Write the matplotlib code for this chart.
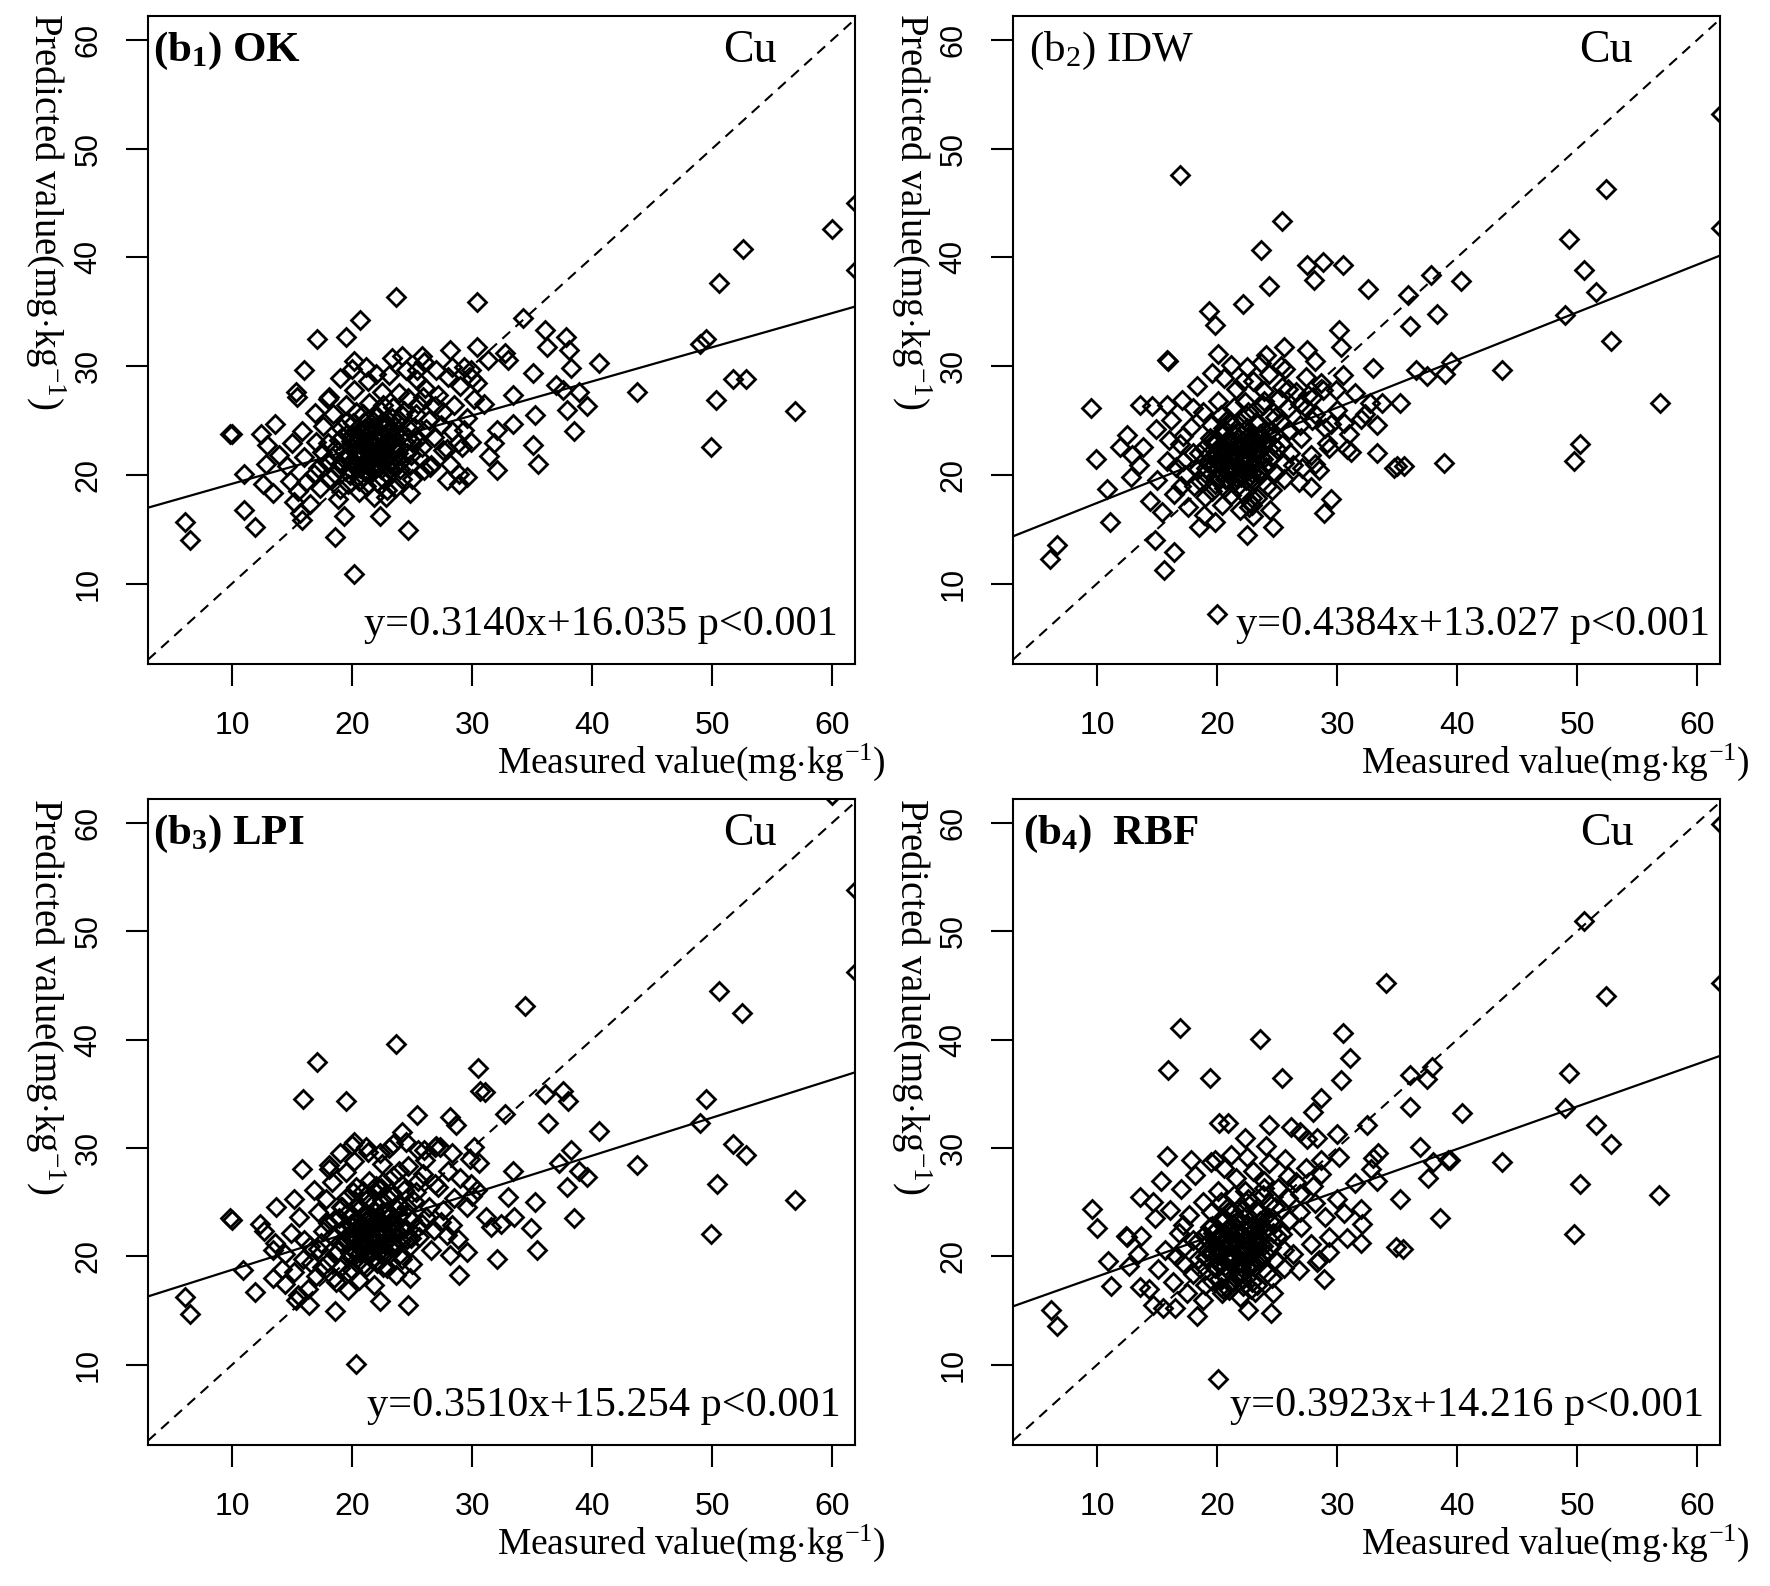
import matplotlib
matplotlib.use('Agg')
import matplotlib.pyplot as plt

plt.rcParams['mathtext.fontset'] = 'custom'
plt.rcParams['mathtext.rm'] = 'Liberation Serif'
plt.rcParams['mathtext.it'] = 'Liberation Serif:italic'
plt.rcParams['mathtext.bf'] = 'Liberation Serif:bold'

# ---- data (measured, predicted) in mg/kg ----
ok_pts = [
    (23.7,36.4),(30.4,35.9),(34.2,34.4),(36.1,33.3),(36.2,31.8),(20.7,34.2),(19.5,32.7),(17.1,32.5),
    (16.0,29.6),(15.3,27.6),(15.4,27.2),(9.8,23.8),(10.0,23.8),(12.4,23.8),(12.9,22.7),(13.6,24.7),
    (11.0,20.1),(12.6,19.2),(13.4,18.3),(6.1,15.7),(6.5,14.0),(11.0,16.8),(11.9,15.2),(15.7,16.5),
    (15.8,15.8),(19.3,16.2),(18.6,14.3),(20.2,10.9),(24.8,18.3),(24.7,14.9),(22.3,16.2),(22.8,18.0),
    (27.9,19.5),(28.9,19.2),(29.6,19.8),(32.1,20.4),(31.4,21.7),(31.8,22.9),(35.1,22.7),(35.5,21.0),
    (35.2,25.5),(33.4,24.7),(32.1,24.1),(33.4,27.3),(28.2,31.5),(28.3,29.9),(30.4,31.8),(31.3,30.6),
    (32.7,31.2),(33.0,30.6),(29.3,29.9),(30.0,28.9),(30.4,28.4),(25.8,30.9),(25.4,29.6),(25.4,28.7),
    (24.2,30.9),(23.3,30.7),(20.2,30.5),(21.2,29.9),(22.0,29.3),(18.1,27.2),(29.3,24.1),(29.2,22.6),
    (29.9,23.0),(27.6,22.3),(28.2,21.0),(28.9,20.1),(26.5,20.7),(26.0,20.4),(35.1,29.4),(37.0,28.3),
    (60.0,42.6),(52.6,40.8),(50.6,37.6),(62.0,45.0),(62.0,38.8),(49.5,32.5),(49.0,32.0),(51.7,28.8),
    (52.8,28.8),(50.3,26.9),(49.9,22.6),(56.9,25.9),(43.7,27.6),(40.6,30.3),(38.5,24.0),(39.6,26.3),
    (38.9,27.6),(38.2,29.8),(38.1,31.5),(37.8,32.7),(37.9,26.0),(37.6,27.8),
    (15.5,18.5),(16.2,19.3),(16.8,20.1),(17.3,18.8),(17.9,21.2),(18.2,19.7),(18.6,22.4),(18.9,20.6),
    (19.2,23.5),(19.4,21.4),(19.7,19.2),(19.9,22.6),(20.1,24.8),(20.3,20.7),(20.5,23.1),(20.7,21.8),
    (20.9,19.9),(21.0,22.5),(21.2,24.0),(21.4,21.2),(21.5,23.3),(21.7,20.4),(21.9,22.1),(22.0,25.3),
    (22.2,21.6),(22.4,23.8),(22.6,19.6),(22.8,22.9),(23.0,24.6),(23.2,21.0),(23.4,26.2),(23.6,22.3),
    (23.8,24.1),(24.0,20.5),(24.2,25.5),(24.4,23.0),(24.7,27.1),(24.9,21.8),(25.2,24.4),(25.5,26.5),
    (25.8,22.6),(26.1,28.0),(26.4,25.0),(26.8,23.5),(27.2,27.3),(27.6,25.8),(28.0,29.0),(28.5,26.4),
    (29.0,28.2),(29.6,25.2),(17.0,23.0),(17.6,24.5),(18.4,25.6),(18.8,17.8),(19.5,26.4),(20.2,27.8),
    (20.6,18.4),(21.3,28.6),(21.8,18.0),(22.5,27.6),(23.1,29.2),(23.7,18.9),(24.5,29.6),(25.0,19.6),
    (26.0,30.4),(26.6,20.9),(27.0,29.6),(27.9,22.4),(14.6,20.8),(15.0,22.9),(15.8,24.0),(16.5,17.3),
    (16.9,25.7),(18.0,27.0),(19.0,28.9),(20.0,29.7),(20.4,21.5),(20.8,22.9),(21.1,20.3),(21.6,21.9),
    (22.1,23.2),(22.3,20.8),(22.7,24.4),(23.3,22.6),(19.8,20.5),(20.6,24.0),(21.9,25.6),(18.3,21.6),
    (19.1,24.3),(24.6,22.0),(25.4,23.2),(26.2,24.2),(27.4,24.6),(28.3,24.0),(28.8,22.9),(30.2,27.0),
    (31.0,26.5),(29.9,29.6),(16.0,21.6),(17.5,22.1),(13.9,21.8),(14.8,19.4),(15.2,17.5),(12.8,21.0),
    (19.0,21.0),(19.3,22.2),(19.6,23.8),(19.8,20.0),(20.0,21.3),(20.2,22.9),(20.4,24.2),(20.6,19.4),
    (20.8,20.8),(21.0,21.9),(21.1,23.6),(21.3,25.0),(21.5,20.1),(21.7,22.7),(21.8,24.5),(22.0,21.1),
    (22.1,19.3),(22.3,22.4),(22.5,24.9),(22.6,21.9),(22.8,20.2),(23.0,23.3),(23.1,21.6),(23.3,25.2),
    (23.5,20.8),(23.6,24.4),(23.8,22.0),(24.0,23.6),(24.1,21.3),(24.3,25.9),(24.6,24.4),(24.8,20.9),
    (25.0,23.0),(25.3,25.6),(25.6,21.6),(19.5,24.9),(20.3,25.8),(21.4,26.6),(22.6,26.4),(23.9,27.5),
    (18.6,20.1),(19.0,18.7),(18.0,22.9),(17.2,20.6),(21.2,19.0),(22.9,18.6),(20.0,23.6),(21.6,23.1),
    (22.9,23.9),(20.5,22.2),(21.9,20.7),(23.4,22.7),(24.7,23.4),(20.9,25.6),(19.7,21.6),(22.4,25.9),
    (18.9,23.2),(24.2,19.6),(25.9,27.2),(26.9,26.3),
]
ok_core = [
    (19.6,21.8),(19.9,23.1),(20.1,20.9),(20.3,22.1),(20.5,23.6),(20.7,20.6),(20.9,22.7),(21.1,24.3),
    (21.2,21.4),(21.4,22.9),(21.6,20.8),(21.7,24.0),(21.9,21.6),(22.1,23.5),(22.2,22.2),(22.4,20.5),
    (22.5,24.4),(22.7,21.4),(22.9,23.0),(23.0,21.9),(23.2,24.0),(23.4,21.3),(23.5,23.4),(23.7,22.6),
    (23.9,25.0),(21.0,21.1),(21.8,23.4),(22.6,22.6),(20.4,22.8),(23.1,20.5),
]

idw_pts = [
    (16.9,47.6),(25.4,43.3),(23.7,40.7),(24.3,37.4),(22.2,35.7),(19.3,35.1),(19.8,33.8),(27.5,39.3),
    (28.8,39.6),(28.1,37.9),(30.5,39.3),(32.6,37.1),(15.8,30.6),(15.9,30.5),(20.1,31.1),(25.6,31.8),
    (28.2,30.5),(30.2,33.3),(30.3,31.8),(30.5,29.2),(9.5,26.1),(13.6,26.4),(14.6,26.3),(15.8,26.4),
    (12.5,23.7),(11.9,22.6),(12.9,21.8),(9.9,21.5),(10.8,18.7),(11.1,15.7),(6.1,12.3),(6.7,13.5),
    (14.8,14.0),(16.4,12.9),(15.6,11.2),(18.5,15.2),(19.8,15.7),(22.5,14.5),(24.4,16.8),(24.7,15.2),
    (22.9,17.2),(22.7,17.0),(27.8,18.9),(29.5,17.8),(28.9,16.5),(31.0,23.8),(31.2,22.1),(33.3,24.6),
    (33.3,22.0),(34.7,20.6),(35.2,26.6),(32.3,25.6),(32.7,26.6),(29.9,27.8),(28.8,27.8),(25.4,28.1),
    (27.4,26.1),(27.9,25.0),(29.5,24.7),(29.2,22.9),(27.1,20.6),(28.2,21.0),(20.0,7.2),
    (35.9,36.5),(36.1,33.7),(37.8,38.4),(38.3,34.8),(36.6,29.6),(37.5,29.1),(35.0,20.8),(35.6,20.8),
    (33.7,26.6),
    (52.4,46.3),(49.3,41.7),(50.6,38.8),(51.6,36.8),(49.0,34.7),(52.8,32.3),(56.9,26.6),(50.2,22.8),
    (49.7,21.3),(43.7,29.6),(40.3,37.8),(62.0,53.2),(62.0,42.7),(39.5,30.4),(39.0,29.3),(38.9,21.1),
    (15.0,19.5),(15.8,21.3),(16.4,18.2),(16.9,22.8),(17.3,20.0),(17.8,24.4),(18.1,19.0),(18.5,22.0),
    (18.8,25.8),(19.1,20.6),(19.4,23.4),(19.6,18.5),(19.9,21.7),(20.1,26.8),(20.3,20.2),(20.5,24.3),
    (20.7,22.3),(20.9,19.5),(21.1,21.0),(21.3,23.8),(21.5,20.6),(21.6,27.9),(21.8,22.6),(22.0,19.8),
    (22.2,25.1),(22.4,21.5),(22.6,23.6),(22.8,17.4),(23.0,28.6),(23.2,22.0),(23.4,24.8),(23.6,20.3),
    (23.8,26.4),(24.0,23.2),(24.3,29.3),(24.5,21.6),(24.8,25.3),(25.1,27.0),(25.4,22.8),(25.7,29.7),
    (26.0,24.1),(26.3,20.9),(26.6,27.6),(27.0,23.4),(27.4,29.0),(27.8,21.8),(28.2,25.6),(28.7,28.4),
    (29.3,22.5),(30.0,26.0),(30.6,24.8),(31.5,27.5),(16.2,25.0),(17.1,26.9),(17.6,17.0),(18.3,28.2),
    (18.9,16.3),(19.6,29.4),(20.4,17.2),(21.2,30.1),(21.9,16.8),(22.5,29.9),(23.3,17.9),(24.1,31.0),
    (24.6,18.6),(25.6,19.6),(26.8,19.3),(27.5,31.5),(13.8,22.6),(14.4,17.6),(14.9,24.2),(12.8,19.8),
    (13.5,20.9),(20.2,21.4),(20.8,23.1),(21.4,22.2),(22.1,21.1),(22.7,22.7),(21.0,24.9),(19.7,22.9),
    (23.5,23.3),(20.0,19.6),(22.9,20.2),(24.4,24.0),(19.2,21.2),(18.4,20.5),(25.9,26.1),(26.9,26.5),
    (28.0,27.2),(29.0,24.3),(17.2,23.6),(16.6,20.7),(22.3,26.7),(23.9,27.7),(21.7,18.9),(20.6,28.9),
    (28.5,20.4),(30.8,22.4),(32.0,25.1),(33.0,29.8),
    (19.0,20.2),(19.3,21.9),(19.6,23.2),(19.8,19.2),(20.0,20.6),(20.2,22.4),(20.4,23.7),(20.6,18.8),
    (20.8,20.3),(21.0,21.5),(21.1,23.0),(21.3,24.6),(21.5,19.5),(21.7,21.9),(21.8,23.9),(22.0,20.6),
    (22.1,18.4),(22.3,22.0),(22.5,24.3),(22.6,21.2),(22.8,19.6),(23.0,22.8),(23.1,21.0),(23.3,24.7),
    (23.5,20.1),(23.6,23.8),(23.8,21.5),(24.0,22.9),(24.1,20.7),(24.3,25.4),(24.6,23.6),(24.8,20.2),
    (25.0,22.4),(25.3,24.9),(25.6,21.1),(19.5,24.6),(20.3,25.5),(21.4,26.2),(22.6,25.8),(23.9,26.8),
    (18.6,19.4),(19.0,18.0),(18.0,22.0),(17.2,21.3),(21.2,18.1),(22.9,17.9),(20.0,23.0),(21.6,22.6),
    (22.9,23.3),(20.5,21.6),(21.9,20.0),(23.4,22.0),(24.7,22.7),(20.9,25.1),(19.7,20.8),(22.4,25.5),
    (18.9,22.5),(24.2,19.0),(25.9,27.9),(26.9,24.6),(23.7,30.3),(22.2,28.6),(25.3,30.0),(26.1,22.0),
    (27.6,27.3),(18.0,26.1),(17.0,19.0),(16.0,23.2),(15.4,16.6),(23.0,16.2),
]
idw_core = [
    (19.6,20.8),(19.9,22.1),(20.1,19.9),(20.3,21.1),(20.5,22.6),(20.7,19.6),(20.9,21.7),(21.1,23.3),
    (21.2,20.4),(21.4,21.9),(21.6,19.8),(21.7,23.0),(21.9,20.6),(22.1,22.5),(22.2,21.2),(22.4,19.5),
    (22.5,23.4),(22.7,20.4),(22.9,22.0),(23.0,20.9),(23.2,23.0),(23.4,20.3),(23.5,22.4),(23.7,21.6),
    (23.9,24.0),(21.0,20.1),(21.8,22.4),(22.6,21.6),(20.4,21.8),(23.1,19.5),
]

lpi_pts = [
    (34.4,43.1),(23.7,39.6),(17.1,37.9),(15.9,34.5),(19.5,34.3),(30.5,37.4),(30.7,35.3),(31.1,35.2),
    (25.4,33.0),(28.2,32.9),(28.7,32.1),(32.7,33.1),(36.1,35.0),(37.6,35.3),(38.0,34.3),(36.3,32.3),
    (40.6,31.6),(43.7,28.4),(33.4,27.9),(37.2,28.6),(38.2,29.8),(38.9,27.9),(39.6,27.3),(37.9,26.4),
    (38.5,23.5),(33.0,25.5),(33.5,23.6),(35.2,25.0),(34.9,22.6),(35.4,20.6),(32.1,19.8),(28.9,18.3),
    (28.2,20.1),(29.6,20.4),(31.6,22.7),(32.4,23.0),(30.4,26.1),(29.9,26.7),(30.6,28.6),(30.2,30.1),
    (24.2,31.5),(23.4,30.4),(22.3,29.5),(20.2,30.6),(21.2,30.1),(25.5,29.8),(26.9,30.1),(27.3,30.1),
    (28.3,29.5),(18.1,28.4),(15.8,28.1),(15.2,25.3),(13.7,24.6),(9.8,23.5),(10.0,23.4),(12.3,23.0),
    (12.7,22.3),(10.9,18.7),(11.9,16.7),(6.1,16.3),(6.5,14.7),(13.4,18.0),(14.4,17.5),(16.4,15.5),
    (18.6,15.0),(22.3,15.9),(24.7,15.5),(24.8,18.0),(20.3,10.1),(15.3,16.0),(19.7,16.9),(20.0,18.7),
    (13.6,21.2),
    (50.6,44.5),(52.5,42.5),(49.5,34.5),(49.0,32.3),(51.7,30.4),(52.8,29.4),(50.4,26.7),(49.9,22.1),
    (56.9,25.2),(62.0,53.8),(62.0,46.2),(60.0,62.6),
    (15.2,18.6),(15.9,19.8),(16.5,21.0),(17.0,18.2),(17.6,22.3),(18.0,19.5),(18.5,23.4),(18.8,20.5),
    (19.2,24.6),(19.4,21.7),(19.7,18.6),(19.9,23.0),(20.1,25.9),(20.3,20.4),(20.5,22.6),(20.7,21.1),
    (20.9,19.2),(21.0,23.8),(21.2,25.2),(21.4,20.7),(21.5,22.4),(21.7,19.8),(21.9,24.1),(22.0,26.5),
    (22.2,21.4),(22.4,23.3),(22.6,19.0),(22.8,22.2),(23.0,25.4),(23.2,20.9),(23.4,27.4),(23.6,23.0),
    (23.8,24.8),(24.0,20.2),(24.2,26.6),(24.4,22.6),(24.7,28.3),(24.9,21.7),(25.2,25.1),(25.5,27.0),
    (25.8,23.0),(26.1,28.9),(26.4,24.6),(26.8,22.4),(27.2,26.4),(27.6,24.3),(28.0,27.9),(28.5,25.4),
    (29.0,27.2),(29.6,24.6),(17.2,24.1),(17.8,25.3),(18.3,26.9),(18.7,17.6),(19.5,27.8),(20.2,28.8),
    (20.6,17.8),(21.3,29.6),(21.8,17.4),(22.5,28.5),(23.1,30.0),(23.7,18.3),(24.5,30.6),(25.0,19.3),
    (26.0,29.8),(26.6,20.6),(27.0,30.2),(27.9,22.0),(14.4,20.2),(14.9,22.2),(15.6,23.6),(16.3,17.0),
    (16.8,26.1),(18.1,28.1),(19.0,29.5),(20.0,30.3),(20.4,21.6),(20.8,22.9),(21.1,20.3),(21.6,21.8),
    (22.1,23.0),(22.3,20.5),(22.7,24.0),(23.3,22.3),(19.8,20.0),(20.6,24.4),(21.9,26.0),(18.3,21.9),
    (19.1,24.6),(24.6,21.6),(25.4,22.6),(26.2,23.6),(27.4,23.2),(28.3,22.9),(28.8,21.6),(30.0,25.6),
    (31.2,23.6),(29.8,29.0),(16.0,21.5),(17.4,21.2),(13.4,20.6),(14.2,18.8),(15.5,16.4),
    (19.0,21.3),(19.3,22.6),(19.6,24.0),(19.8,20.3),(20.0,21.6),(20.2,23.2),(20.4,24.6),(20.6,19.6),
    (20.8,21.0),(21.0,22.2),(21.1,23.9),(21.3,25.4),(21.5,20.2),(21.7,22.9),(21.8,24.9),(22.0,21.3),
    (22.1,19.4),(22.3,22.6),(22.5,25.2),(22.6,22.0),(22.8,20.3),(23.0,23.6),(23.1,21.8),(23.3,25.6),
    (23.5,21.0),(23.6,24.6),(23.8,22.2),(24.0,23.8),(24.1,21.4),(24.3,26.1),(24.6,24.6),(24.8,21.0),
    (25.0,23.4),(25.3,25.9),(25.6,21.8),(19.5,25.4),(20.3,26.4),(21.4,27.0),(22.6,26.9),(23.9,27.9),
    (18.6,20.2),(19.0,18.9),(18.0,23.1),(17.2,20.7),(21.2,19.0),(22.9,18.9),(20.0,23.8),(21.6,23.3),
    (22.9,24.2),(20.5,22.3),(21.9,20.8),(23.4,23.0),(24.7,23.6),(20.9,26.0),(19.7,21.9),(22.4,26.3),
    (18.9,23.5),(24.2,19.8),(25.9,27.6),(26.9,26.7),(17.5,19.0),(16.6,19.4),(18.5,18.0),
]
lpi_core = [
    (19.6,21.5),(19.9,22.8),(20.1,20.6),(20.3,21.8),(20.5,23.3),(20.7,20.3),(20.9,22.4),(21.1,24.0),
    (21.2,21.1),(21.4,22.6),(21.6,20.5),(21.7,23.7),(21.9,21.3),(22.1,23.2),(22.2,21.9),(22.4,20.2),
    (22.5,24.1),(22.7,21.1),(22.9,22.7),(23.0,21.6),(23.2,23.7),(23.4,21.0),(23.5,23.1),(23.7,22.3),
    (23.9,24.7),(21.0,20.8),(21.8,23.1),(22.6,22.3),(20.4,22.5),(23.1,20.2),
]

rbf_pts = [
    (34.1,45.2),(16.9,41.1),(23.6,40.1),(30.5,40.6),(15.9,37.2),(19.4,36.5),(25.4,36.5),(31.1,38.3),
    (30.3,36.3),(36.1,36.7),(37.9,37.5),(37.5,36.4),(36.1,33.8),(40.4,33.2),(43.7,28.7),(32.5,32.1),
    (28.7,34.6),(28.0,33.3),(36.9,30.1),(38.0,28.7),(39.2,28.9),(37.6,27.2),(38.6,23.5),(35.2,25.3),
    (34.9,20.9),(35.5,20.7),(33.4,29.5),(32.8,28.1),(33.3,27.0),(32.1,23.0),(32.0,21.2),(28.9,17.9),
    (29.3,20.4),(28.3,19.5),(30.2,29.2),(28.7,28.9),(30.0,31.3),(26.2,31.9),(24.3,32.1),(26.9,31.5),
    (28.3,30.9),(20.2,32.3),(20.9,32.3),(22.3,30.9),(15.8,29.3),(17.8,28.9),(19.8,28.9),(15.3,27.0),
    (13.6,25.5),(14.7,25.0),(9.6,24.4),(10.0,22.6),(12.4,21.9),(12.5,21.8),(10.9,19.6),(11.2,17.3),
    (13.6,17.2),(6.2,15.1),(6.7,13.6),(14.7,15.5),(15.5,15.2),(16.5,15.2),(18.3,14.5),(22.6,15.1),
    (24.5,14.8),(24.7,16.6),(20.3,17.2),(20.1,8.7),
    (50.6,50.9),(52.4,44.0),(49.3,36.9),(49.0,33.7),(51.6,32.1),(52.8,30.4),(50.2,26.7),(49.7,22.1),
    (56.8,25.7),(62.0,59.9),(62.0,45.2),(39.4,28.9),
    (15.1,18.8),(15.7,20.6),(16.3,17.6),(16.8,22.2),(17.2,19.4),(17.7,23.8),(18.0,18.4),(18.4,21.4),
    (18.8,25.0),(19.1,19.9),(19.4,22.7),(19.6,17.7),(19.9,21.0),(20.1,26.0),(20.3,19.4),(20.5,23.6),
    (20.7,21.6),(20.9,18.7),(21.1,20.3),(21.3,23.0),(21.5,19.9),(21.6,27.2),(21.8,21.9),(22.0,19.0),
    (22.2,24.4),(22.4,20.8),(22.6,22.9),(22.8,17.0),(23.0,27.9),(23.2,21.3),(23.4,24.1),(23.6,19.6),
    (23.8,25.7),(24.0,22.5),(24.3,28.6),(24.5,20.9),(24.8,24.6),(25.1,26.3),(25.4,22.1),(25.7,29.0),
    (26.0,23.4),(26.3,20.2),(26.6,26.9),(27.0,22.7),(27.4,28.2),(27.8,21.1),(28.2,24.9),(28.7,27.6),
    (29.3,21.8),(30.0,25.3),(30.6,24.0),(31.5,26.8),(16.1,24.3),(17.0,26.2),(17.5,16.6),(18.2,27.5),
    (18.8,16.0),(19.5,28.7),(20.4,16.6),(21.2,29.4),(21.9,16.3),(22.5,29.2),(23.3,17.4),(24.1,30.2),
    (24.6,18.0),(25.6,18.9),(26.8,18.7),(27.5,30.8),(13.7,21.9),(14.3,17.0),(14.8,23.5),(12.7,19.1),
    (13.4,20.2),(20.2,20.7),(20.8,22.4),(21.4,21.5),(22.1,20.4),(22.7,22.0),(21.0,24.2),(19.7,22.2),
    (23.5,22.6),(20.0,18.9),(22.9,19.5),(24.4,23.3),(19.2,20.5),(18.4,19.8),(25.9,25.4),(26.9,25.8),
    (28.0,26.5),(29.0,23.6),(17.2,22.9),(16.6,20.0),(22.3,26.0),(23.9,27.0),(21.7,18.2),(20.6,28.2),
    (28.5,19.7),(30.8,21.7),(32.0,24.4),(33.0,29.1),(21.3,17.6),(20.5,17.0),
    (19.0,19.9),(19.3,21.4),(19.6,22.8),(19.8,18.9),(20.0,20.1),(20.2,21.9),(20.4,23.2),(20.6,18.3),
    (20.8,19.9),(21.0,21.0),(21.1,22.6),(21.3,24.1),(21.5,19.0),(21.7,21.5),(21.8,23.4),(22.0,20.1),
    (22.1,18.0),(22.3,21.6),(22.5,23.8),(22.6,20.7),(22.8,19.1),(23.0,22.3),(23.1,20.5),(23.3,24.2),
    (23.5,19.6),(23.6,23.3),(23.8,21.0),(24.0,22.4),(24.1,20.2),(24.3,24.9),(24.6,23.1),(24.8,19.7),
    (25.0,21.9),(25.3,24.4),(25.6,20.6),(19.5,24.1),(20.3,25.0),(21.4,25.7),(22.6,25.3),(23.9,26.3),
    (18.6,18.9),(19.0,17.4),(18.0,21.5),(17.2,20.8),(21.2,17.6),(22.9,17.6),(20.0,22.5),(21.6,22.1),
    (22.9,22.8),(20.5,21.1),(21.9,19.5),(23.4,21.5),(24.7,22.2),(20.9,24.6),(19.7,20.3),(22.4,25.0),
    (18.9,22.0),(24.2,18.5),(25.9,27.4),(26.9,24.1),(20.2,17.9),(21.0,16.9),(22.2,17.3),(23.2,16.7),
]
rbf_core = [
    (19.6,20.3),(19.9,21.6),(20.1,19.4),(20.3,20.6),(20.5,22.1),(20.7,19.1),(20.9,21.2),(21.1,22.8),
    (21.2,19.9),(21.4,21.4),(21.6,19.3),(21.7,22.5),(21.9,20.1),(22.1,22.0),(22.2,20.7),(22.4,19.0),
    (22.5,22.9),(22.7,19.9),(22.9,21.5),(23.0,20.4),(23.2,22.5),(23.4,19.8),(23.5,21.9),(23.7,21.1),
    (23.9,23.5),(21.0,19.6),(21.8,21.9),(22.6,21.1),(20.4,21.3),(23.1,19.0),
]

panel_points = [ok_pts + ok_core, idw_pts + idw_core, lpi_pts + lpi_core, rbf_pts + rbf_core]
panel_names = [r'$\mathbf{(b_1)\ OK}$', r'(b$_2$) IDW', r'$\mathbf{(b_3)\ LPI}$', r'$\mathbf{(b_4)\ \ RBF}$']
slopes = [0.3140, 0.4384, 0.3510, 0.3923]
intercepts = [16.035, 13.027, 15.254, 14.216]
equations = ['y=0.3140x+16.035 p<0.001', 'y=0.4384x+13.027 p<0.001',
             'y=0.3510x+15.254 p<0.001', 'y=0.3923x+14.216 p<0.001']
ticks = [10, 20, 30, 40, 50, 60]

W, H = 1770, 1586
fig = plt.figure(figsize=(W / 100, H / 100), dpi=100)

# axes boxes in pixels: left, top, right, bottom
boxes = [(148, 16, 855, 664), (1013, 16, 1720, 664),
         (148, 799, 855, 1445), (1013, 799, 1720, 1445)]
title_x = [0.007, 0.023, 0.007, 0.014]
cu_x = [0.851, 0.839, 0.851, 0.840]
eq_x = [0.976, 0.986, 0.980, 0.977]

for i in range(4):
    l, t, r, b = boxes[i]
    ax = fig.add_axes([l / W, 1 - b / H, (r - l) / W, (b - t) / H])
    pts = panel_points[i]
    xs = [p[0] for p in pts]
    ys = [p[1] for p in pts]
    ax.plot(xs, ys, linestyle='none', marker='D', ms=8.8, mfc='none', mec='black', mew=2.0)
    ax.axline((0, 0), slope=1, color='black', lw=1.5, dashes=(5, 3.5))
    ax.axline((0, intercepts[i]), slope=slopes[i], color='black', lw=1.6)
    ax.set_xlim(3.0, 61.9)
    ax.set_ylim(2.6, 62.2)
    ax.set_xticks(ticks)
    ax.set_yticks(ticks)
    for sp in ax.spines.values():
        sp.set_linewidth(1.5)
    ax.tick_params(axis='both', direction='out', length=16, width=1.5)
    ax.tick_params(axis='x', pad=18, labelsize=23)
    ax.tick_params(axis='y', pad=16, labelsize=22, labelrotation=90)
    for lab in ax.get_xticklabels() + ax.get_yticklabels():
        lab.set_family('Liberation Sans')
    for lab in ax.get_yticklabels():
        lab.set_va('center')

    ax.text(title_x[i], 0.946, panel_names[i], transform=ax.transAxes, ha='left', va='center',
            fontsize=31, family='Liberation Serif')
    ax.text(cu_x[i], 0.946, 'Cu', transform=ax.transAxes, ha='center', va='center',
            fontsize=33, family='Liberation Serif')
    ax.text(eq_x[i], 0.06, equations[i], transform=ax.transAxes, ha='right', va='center',
            fontsize=30.5, family='Liberation Serif')

    # axis titles placed like the original
    xl_right = 886 if i % 2 == 0 else 1750
    xl_y = 762 if i < 2 else 1543
    fig.text(xl_right / W, 1 - xl_y / H, r'Measured value(mg$\cdot$kg$^{-1}$)', ha='right', va='center',
             fontsize=27, family='Liberation Serif')
    yl_x = 45 if i % 2 == 0 else 911
    yl_top = 13 if i < 2 else 798
    fig.text(yl_x / W, 1 - yl_top / H, r'Predicted value(mg$\cdot$kg$^{-1}$)', ha='center', va='top',
             rotation=270, fontsize=28, family='Liberation Serif')

fig.savefig('out.png', dpi=100)
